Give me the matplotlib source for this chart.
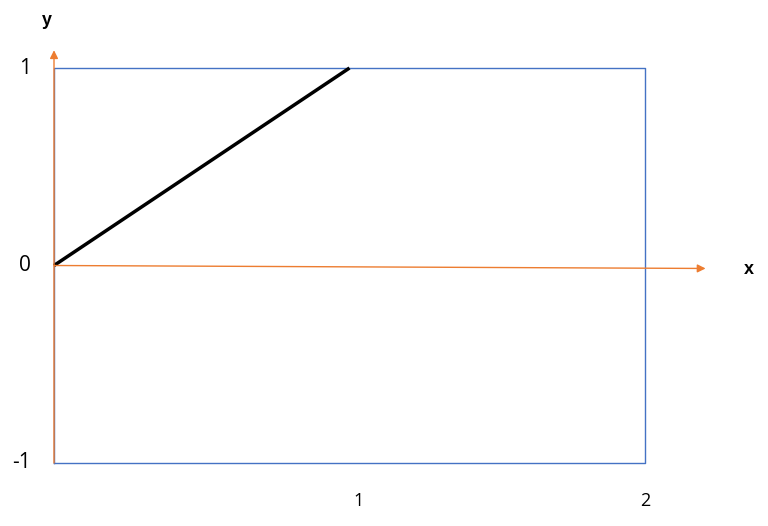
import matplotlib.pyplot as plt

# data
box_x = [0, 2, 2, 0, 0]
box_y = [-1, -1, 1, 1, -1]
line_x = [0, 1]
line_y = [0, 1]
x_ticks = [1, 2]
y_ticks = [1, 0, -1]

blue = '#4472C4'
orange = '#ED7D31'

fig = plt.figure(figsize=(7.68, 5.26), dpi=100)
ax = fig.add_axes([0, 0, 1, 1])
ax.set_xlim(-54 / 295.5, 714 / 295.5)
ax.set_ylim(-1 - 63 / 197.5, 1 + 68 / 197.5)
ax.axis('off')

# rectangle
ax.plot(box_x, box_y, color=blue, lw=1.0)

# orange axes with arrows
ax.annotate('', xy=(0, 1.09), xytext=(0, -1),
            arrowprops=dict(arrowstyle='-|>', color=orange, lw=1.0,
                            mutation_scale=12, shrinkA=0, shrinkB=0))
ax.annotate('', xy=(2.205, -0.015), xytext=(0, 0),
            arrowprops=dict(arrowstyle='-|>', color=orange, lw=1.0,
                            mutation_scale=12, shrinkA=0, shrinkB=0))

# black line
ax.plot(line_x, line_y, color='black', lw=2.5, solid_capstyle='butt')

# tick labels
for v in y_ticks:
    ax.text(-0.078, v, str(v), ha='right', va='center', fontsize=15,
            family='Open Sans')
for v in x_ticks:
    # the "1" label sits a little right of its position in the original
    xpos = v + 0.03 if v == 1 else v
    ax.text(xpos, -1.19, str(v), ha='center', va='center', fontsize=13,
            family='Open Sans')

ax.text(2.35, -0.02, 'x', ha='center', va='center', fontsize=13,
        fontweight='bold', family='Liberation Sans')
ax.text(-0.024, 1.243, 'y', ha='center', va='center', fontsize=13,
        fontweight='bold', family='Liberation Sans')

fig.savefig('out.png', dpi=100)
